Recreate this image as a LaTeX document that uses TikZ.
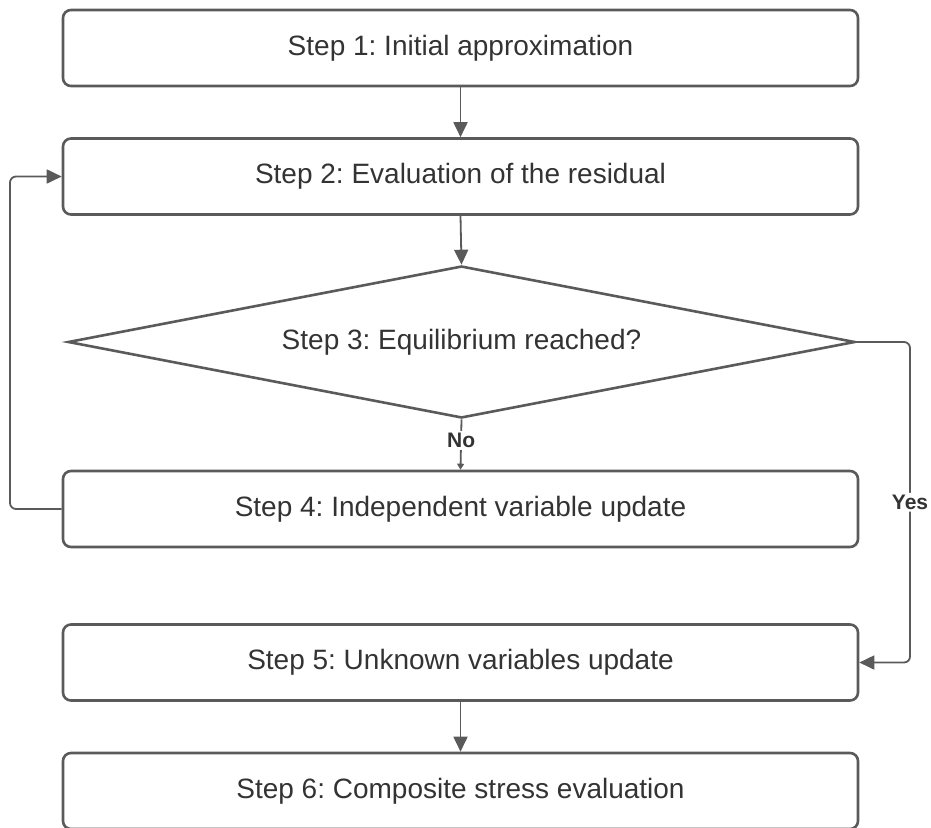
\documentclass[tikz,border=0pt]{standalone}
\usepackage{fontspec}
\setmainfont{Liberation Sans}
\usetikzlibrary{arrows.meta,shapes.geometric}
\definecolor{ln}{HTML}{5A5A5A}
\definecolor{tx}{HTML}{333333}
\frenchspacing
\begin{document}
\begin{tikzpicture}[x=1pt,y=-1pt,
  stepbox/.style={draw=ln,line width=2.6pt,rounded corners=8pt,minimum width=795pt,minimum height=76pt,inner sep=0pt,text=tx,font=\fontsize{28}{32}\selectfont},
  decision/.style={draw=ln,line width=2.6pt,diamond,aspect=5.18,minimum width=787pt,minimum height=152pt,inner sep=0pt,text=tx,font=\fontsize{28}{32}\selectfont},
  conn/.style={draw=ln,line width=1.8pt,-{Triangle[length=15pt,width=14pt]},rounded corners=6pt},
  lbl/.style={fill=white,text=tx,font=\bfseries\fontsize{21}{24}\selectfont,inner sep=2pt}]
\useasboundingbox (0,0) rectangle (931,827);
\clip (0,0) rectangle (931,827);
\node[stepbox] (s1) at (460.5,48) {Step 1: Initial approximation};
\node[stepbox] (s2) at (460.5,176.5) {Step 2: Evaluation of the residual};
\node[decision] (s3) at (461.5,342) {Step 3: Equilibrium reached?};
\node[stepbox] (s4) at (460.5,509) {Step 4: Independent variable update};
\node[stepbox] (s5) at (460.5,662.5) {Step 5: Unknown variables update};
\node[stepbox] (s6) at (460.5,791) {Step 6: Composite stress evaluation};
\coordinate (lc) at (10,0);
\coordinate (rc) at (910,0);
\draw[conn] (s1.south) -- (s2.north);
\draw[conn] (s2.south) -- (s3.north);
\draw[conn,-{Triangle[length=6pt,width=7pt]}] (s3.south) -- node[lbl,pos=0.42] (no) {No} (s4.north);
\draw[conn] (s4.west) -- (lc |- s4.west) -- (lc |- s2.west) -- (s2.west);
\draw[conn] (s3.east) -- (rc |- s3.east) -- node[lbl,pos=0.5] (yes) {Yes} (rc |- s5.east) -- (s5.east);
\draw[conn] (s5.south) -- (s6.north);
\end{tikzpicture}
\end{document}
